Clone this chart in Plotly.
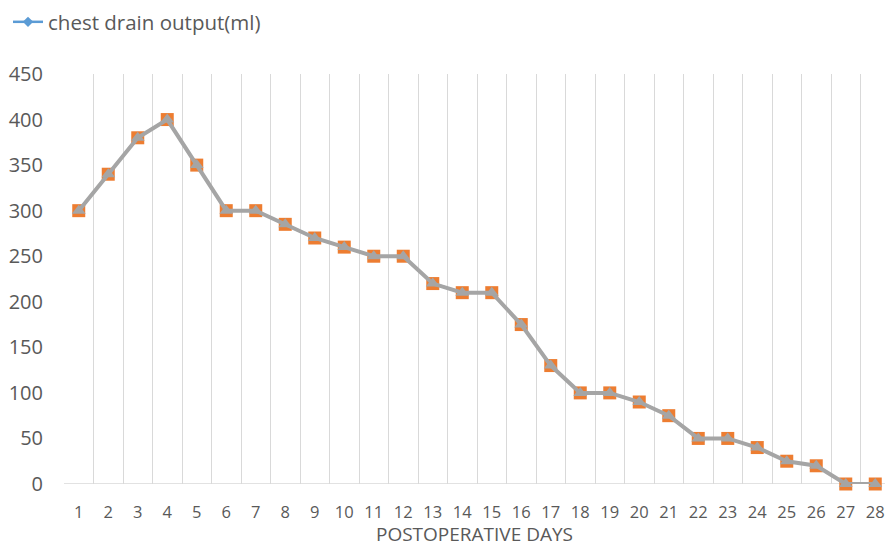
import plotly.graph_objects as go

days = list(range(1, 29))
output_ml = [300, 340, 380, 400, 350, 300, 300, 285, 270, 260, 250, 250, 220, 210,
             210, 175, 130, 100, 100, 90, 75, 50, 50, 40, 25, 20, 0, 0]
y_ticks = [0, 50, 100, 150, 200, 250, 300, 350, 400, 450]
series_name = "chest drain output(ml)"
x_title = "POSTOPERATIVE DAYS"

font_family = "Open Sans, Noto Sans, sans-serif"
text_color = "#595959"
grid_color = "#D9D9D9"

fig = go.Figure()
fig.add_trace(go.Scatter(
    x=days, y=output_ml, mode="lines+markers", name=series_name,
    line=dict(color="#5B9BD5", width=2.5),
    marker=dict(symbol="diamond", size=8, color="#5B9BD5"),
    cliponaxis=False, showlegend=True))
fig.add_trace(go.Scatter(
    x=days, y=output_ml, mode="markers",
    marker=dict(symbol="square", size=13, color="#ED7D31"),
    cliponaxis=False, showlegend=False))
fig.add_trace(go.Scatter(
    x=days, y=output_ml, mode="lines+markers",
    line=dict(color="#A5A5A5", width=4),
    marker=dict(symbol="triangle-up", size=12, color="#A5A5A5"),
    cliponaxis=False, showlegend=False))

fig.update_layout(
    width=885, height=547,
    margin=dict(l=64, r=0, t=74, b=63),
    paper_bgcolor="white", plot_bgcolor="white",
    font=dict(family=font_family, color=text_color, size=16),
    showlegend=True,
    legend=dict(x=8 / 885, y=1 - 22 / 547, xref="container", yref="container",
                xanchor="left", yanchor="middle",
                orientation="h", font=dict(size=20.5, color=text_color),
                itemwidth=30, bgcolor="rgba(0,0,0,0)"),
    xaxis=dict(
        range=[0.5, 28.33], tickvals=days, ticktext=[str(d) for d in days],
        showgrid=False, zeroline=False, showline=False,
        ticks="outside", ticklen=13, tickcolor="rgba(0,0,0,0)",
        automargin=False,
        tickfont=dict(size=16.5, color=text_color),
        title=dict(text=x_title, font=dict(size=19, color=text_color), standoff=14),
        minor=dict(tickvals=[d + 0.5 for d in [0] + days], showgrid=True,
                   gridcolor=grid_color, gridwidth=1, ticks=""),
    ),
    yaxis=dict(
        range=[0, 450], tickvals=y_ticks, showgrid=False, zeroline=False,
        showline=False, ticks="outside", ticklen=16, tickcolor="rgba(0,0,0,0)",
        automargin=False,
        tickfont=dict(size=20, color=text_color),
    ),
)
fig.add_hline(y=0, line=dict(color=grid_color, width=1.5), layer="below")

fig.write_html("out.html", config={"displayModeBar": False},
               post_script="document.body.style.margin='0';document.body.style.overflow='hidden';")
